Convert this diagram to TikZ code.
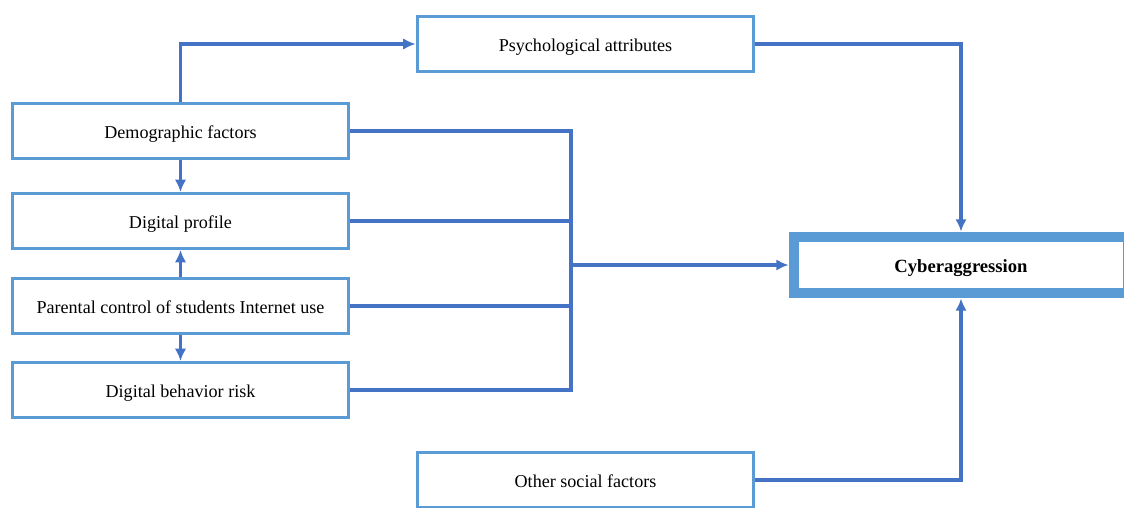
\documentclass[tikz,border=0pt]{standalone}
\usepackage{fontspec}
\setmainfont{Liberation Serif}
\usetikzlibrary{positioning,arrows.meta}

\definecolor{boxblue}{HTML}{5B9BD5}
\definecolor{lineblue}{HTML}{4472C4}

\tikzset{
	factor/.style={draw=boxblue, line width=1.7pt, fill=white, minimum width=6.74cm, minimum height=1.1cm, text height=8.7pt, text depth=0pt, font=\fontsize{10.3}{12}\selectfont},
	target/.style={draw=boxblue, line width=6.2pt, fill=white, minimum width=6.68cm, minimum height=1.12cm, text height=8.7pt, text depth=0pt, font=\fontsize{10.6}{12}\selectfont\bfseries},
	link/.style={draw=lineblue, line width=1.8pt}
}

\begin{document}
\begin{tikzpicture}[x=0.02cm,y=-0.02cm,>={Latex[length=7pt,width=6.5pt]}]
		\clip (0,0) rectangle (1124,507);
		\node[factor] (psy) at (585.5,44) {Psychological attributes};
		\node[factor] (demo) at (180.5,131) {Demographic factors};
		\node[factor] (prof) at (180.5,221) {Digital profile};
		\node[factor] (par) at (180.5,306) {Parental control of students Internet use};
		\node[factor] (risk) at (180.5,390) {Digital behavior risk};
		\node[factor] (other) at (585.5,480) {Other social factors};
		\node[target] (cyber) at (961,265) {Cyberaggression};
		% collecting line
		\coordinate (bt) at (571,131);
		\coordinate (bb) at (571,390);
		\draw[link] (demo.east) -- (bt) -- (bb) -- (risk.east);
		\draw[link] (prof.east) -- (prof.east -| bt);
		\draw[link] (par.east) -- (par.east -| bt);
		\draw[link,->] (bt |- cyber.west) -- (cyber.west);
		% left column
		\draw[link,->] (demo.south) -- (prof.north);
		\draw[link,->] (par.north) -- (prof.south);
		\draw[link,->] (par.south) -- (risk.north);
		\draw[link,->] (demo.north) |- (psy.west);
		% into the target
		\draw[link,->] (psy.east) -| (cyber.north);
		\draw[link,->] (other.east) -| (cyber.south);
	\end{tikzpicture}
\end{document}
